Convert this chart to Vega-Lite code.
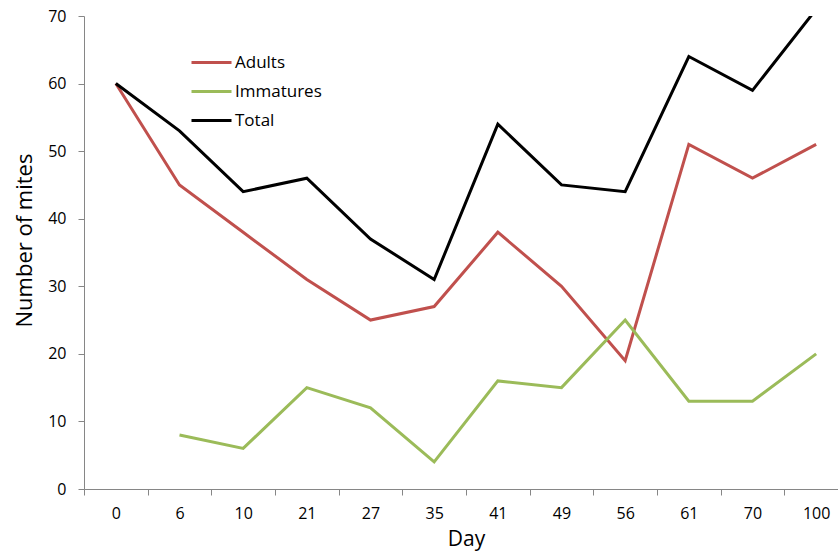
{
  "$schema": "https://vega.github.io/schema/vega-lite/v6.json",
  "autosize": "none",
  "width": 754,
  "height": 473,
  "padding": {"left": 84, "top": 16, "right": 0, "bottom": 62},
  "background": "white",
  "config": {
    "font": "Open Sans",
    "view": {"stroke": null}
  },
  "data": {
    "values": [
      {"day": "0", "group": "Adults", "mites": 60},
      {"day": "6", "group": "Adults", "mites": 45},
      {"day": "10", "group": "Adults", "mites": 38},
      {"day": "21", "group": "Adults", "mites": 31},
      {"day": "27", "group": "Adults", "mites": 25},
      {"day": "35", "group": "Adults", "mites": 27},
      {"day": "41", "group": "Adults", "mites": 38},
      {"day": "49", "group": "Adults", "mites": 30},
      {"day": "56", "group": "Adults", "mites": 19},
      {"day": "61", "group": "Adults", "mites": 51},
      {"day": "70", "group": "Adults", "mites": 46},
      {"day": "100", "group": "Adults", "mites": 51},
      {"day": "6", "group": "Immatures", "mites": 8},
      {"day": "10", "group": "Immatures", "mites": 6},
      {"day": "21", "group": "Immatures", "mites": 15},
      {"day": "27", "group": "Immatures", "mites": 12},
      {"day": "35", "group": "Immatures", "mites": 4},
      {"day": "41", "group": "Immatures", "mites": 16},
      {"day": "49", "group": "Immatures", "mites": 15},
      {"day": "56", "group": "Immatures", "mites": 25},
      {"day": "61", "group": "Immatures", "mites": 13},
      {"day": "70", "group": "Immatures", "mites": 13},
      {"day": "100", "group": "Immatures", "mites": 20},
      {"day": "0", "group": "Total", "mites": 60},
      {"day": "6", "group": "Total", "mites": 53},
      {"day": "10", "group": "Total", "mites": 44},
      {"day": "21", "group": "Total", "mites": 46},
      {"day": "27", "group": "Total", "mites": 37},
      {"day": "35", "group": "Total", "mites": 31},
      {"day": "41", "group": "Total", "mites": 54},
      {"day": "49", "group": "Total", "mites": 45},
      {"day": "56", "group": "Total", "mites": 44},
      {"day": "61", "group": "Total", "mites": 64},
      {"day": "70", "group": "Total", "mites": 59},
      {"day": "100", "group": "Total", "mites": 71}
    ]
  },
  "mark": {"type": "line", "strokeWidth": 3, "clip": true},
  "encoding": {
    "x": {
      "field": "day",
      "type": "ordinal",
      "sort": null,
      "scale": {"type": "band", "range": [0, 764], "paddingInner": 0, "paddingOuter": 0},
      "axis": {
        "title": "Day",
        "titleFontSize": 21,
        "titleFontWeight": "normal",
        "titleColor": "#000000",
        "titleBaseline": "alphabetic",
        "titleX": 382,
        "titleY": 56,
        "labelAngle": 0,
        "labelFontSize": 16,
        "labelColor": "#000000",
        "labelBaseline": "alphabetic",
        "labelPadding": 23,
        "tickBand": "extent",
        "tickSize": 6,
        "tickColor": "#868686",
        "domainColor": "#868686",
        "domainWidth": 1,
        "grid": false
      }
    },
    "y": {
      "field": "mites",
      "type": "quantitative",
      "scale": {"domain": [0, 70], "nice": false},
      "axis": {
        "title": "Number of mites",
        "titleFontSize": 22,
        "titleFontWeight": "normal",
        "titleColor": "#000000",
        "titleAngle": -90,
        "titleBaseline": "alphabetic",
        "titleX": -53,
        "titleY": 224,
        "values": [0, 10, 20, 30, 40, 50, 60, 70],
        "labelFontSize": 16,
        "labelColor": "#000000",
        "labelPadding": 12,
        "tickSize": 6,
        "tickColor": "#868686",
        "domainColor": "#868686",
        "domainWidth": 1,
        "grid": false
      }
    },
    "color": {
      "field": "group",
      "type": "nominal",
      "scale": {
        "domain": ["Adults", "Immatures", "Total"],
        "range": ["#C0504D", "#9BBB59", "#000000"]
      },
      "legend": {
        "title": null,
        "orient": "none",
        "legendX": 116,
        "legendY": 35,
        "padding": 0,
        "symbolType": "M-2,0L2,0",
        "symbolSize": 400,
        "symbolStrokeWidth": 3,
        "labelFontSize": 17,
        "labelColor": "#000000",
        "labelOffset": 12,
        "rowPadding": 9
      }
    }
  }
}
